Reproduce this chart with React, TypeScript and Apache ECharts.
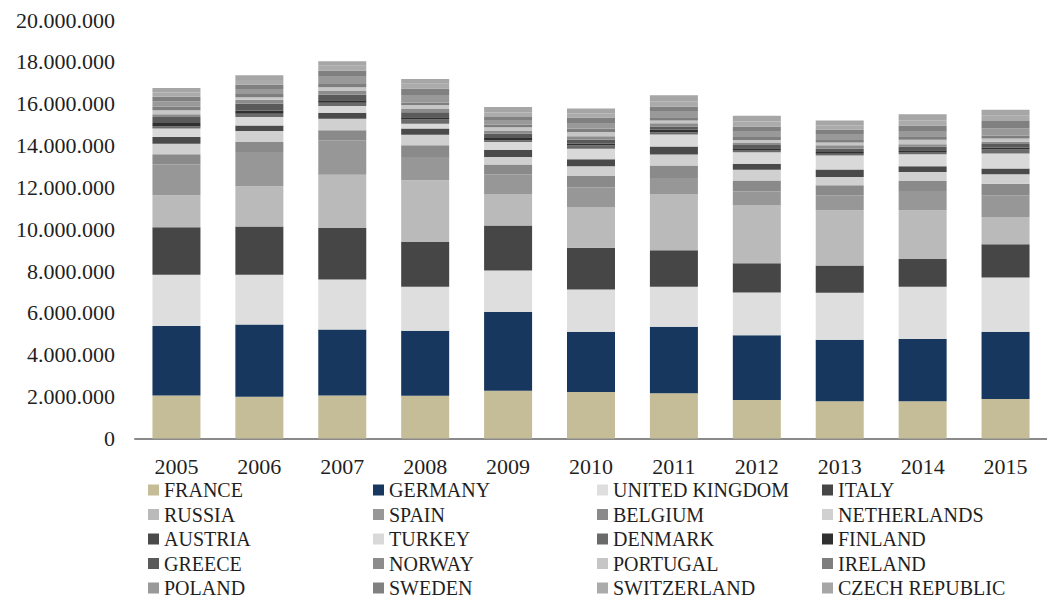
import React, { useEffect, useRef } from "react";
import * as echarts from "echarts";

const years = ["2005", "2006", "2007", "2008", "2009", "2010", "2011", "2012", "2013", "2014", "2015"];

const countries = [
  "FRANCE", "GERMANY", "UNITED KINGDOM", "ITALY",
  "RUSSIA", "SPAIN", "BELGIUM", "NETHERLANDS",
  "AUSTRIA", "TURKEY", "DENMARK", "FINLAND",
  "GREECE", "NORWAY", "PORTUGAL", "IRELAND",
  "POLAND", "SWEDEN", "SWITZERLAND", "CZECH REPUBLIC",
];

const france = [2060000, 2000000, 2060000, 2040000, 2280000, 2220000, 2160000, 1840000, 1780000, 1780000, 1890000];
const germany = [3320000, 3450000, 3150000, 3110000, 3770000, 2880000, 3180000, 3100000, 2940000, 2980000, 3210000];
const unitedKingdom = [2440000, 2370000, 2390000, 2100000, 1980000, 2020000, 1910000, 2040000, 2240000, 2490000, 2590000];
const italy = [2280000, 2310000, 2460000, 2140000, 2150000, 1990000, 1750000, 1400000, 1310000, 1330000, 1590000];
const russia = [1520000, 1920000, 2550000, 2950000, 1480000, 1930000, 2660000, 2760000, 2640000, 2330000, 1310000];
const spain = [1480000, 1640000, 1640000, 1110000, 970000, 950000, 790000, 660000, 710000, 920000, 1030000];
const belgium = [480000, 480000, 480000, 560000, 470000, 550000, 600000, 530000, 480000, 480000, 560000];
const netherlands = [510000, 520000, 550000, 510000, 350000, 470000, 520000, 510000, 400000, 430000, 450000];
const austria = [320000, 270000, 290000, 290000, 350000, 330000, 390000, 290000, 350000, 270000, 270000];
const turkey = [400000, 400000, 320000, 230000, 370000, 510000, 570000, 550000, 680000, 570000, 720000];
const denmark = [110000, 160000, 160000, 200000, 80000, 160000, 110000, 110000, 80000, 110000, 190000];
const finland = [160000, 160000, 110000, 110000, 110000, 80000, 110000, 80000, 80000, 80000, 100000];
const greece = [290000, 320000, 270000, 240000, 210000, 190000, 160000, 160000, 160000, 190000, 160000];
const norway = [130000, 190000, 200000, 160000, 120000, 160000, 160000, 120000, 160000, 100000, 110000];
const portugal = [190000, 120000, 160000, 190000, 190000, 210000, 130000, 110000, 130000, 220000, 160000];
const ireland = [160000, 150000, 150000, 120000, 120000, 170000, 150000, 150000, 130000, 160000, 140000];
const poland = [260000, 240000, 350000, 350000, 180000, 260000, 260000, 250000, 250000, 260000, 340000];
const sweden = [220000, 220000, 300000, 320000, 180000, 260000, 260000, 250000, 250000, 260000, 350000];
const switzerland = [200000, 210000, 220000, 220000, 220000, 200000, 250000, 240000, 200000, 250000, 260000];
const czechRepublic = [220000, 230000, 220000, 230000, 260000, 230000, 280000, 270000, 230000, 280000, 280000];

const seriesValues = [
  france, germany, unitedKingdom, italy,
  russia, spain, belgium, netherlands,
  austria, turkey, denmark, finland,
  greece, norway, portugal, ireland,
  poland, sweden, switzerland, czechRepublic,
];

const colors = [
  "#c4bd97", "#17375e", "#dedede", "#464646",
  "#bababa", "#979797", "#8a8a8a", "#d0d0d0",
  "#4a4a4a", "#d9d9d9", "#6a6a6a", "#303030",
  "#5a5a5a", "#8c8c8c", "#c6c6c6", "#7e7e7e",
  "#999999", "#808080", "#ababab", "#a6a6a6",
];

const FONT = "'Liberation Serif', 'Times New Roman', serif";
const TEXT = "#1f1f1f";

const formatThousands = (v: number) =>
  v === 0 ? "0" : String(Math.round(v)).replace(/\B(?=(\d{3})+(?!\d))/g, ".");

export default function App() {
  const ref = useRef<HTMLDivElement>(null);

  useEffect(() => {
    document.body.style.margin = "0";
    if (!ref.current) return;
    const chart = echarts.init(ref.current, undefined, { renderer: "svg" });

    // four legend columns, five entries each, filled row by row
    const columnLefts = [148, 373, 597, 822];
    const legends = columnLefts.map((left, col) => ({
      orient: "vertical" as const,
      left,
      top: 480,
      height: 200,
      padding: 0,
      icon: "rect",
      itemWidth: 11,
      itemHeight: 11,
      itemGap: 4.5,
      selectedMode: false,
      textStyle: { fontFamily: FONT, fontSize: 20, color: TEXT, lineHeight: 20 },
      data: countries.filter((_, i) => i % 4 === col),
    }));

    chart.setOption({
      animation: false,
      color: colors,
      grid: { left: 135, top: 20, width: 926, height: 418.5 },
      legend: legends,
      xAxis: {
        type: "category",
        data: years,
        axisLine: { lineStyle: { color: "#8a8a8a", width: 2 } },
        axisTick: { show: false },
        axisLabel: { fontFamily: FONT, fontSize: 22, color: TEXT, margin: 17 },
      },
      yAxis: {
        type: "value",
        min: 0,
        max: 20000000,
        interval: 2000000,
        splitLine: { show: false },
        axisLine: { show: false },
        axisTick: { show: false },
        axisLabel: {
          fontFamily: FONT,
          fontSize: 22,
          color: TEXT,
          margin: 20,
          formatter: formatThousands,
        },
      },
      series: countries.map((name, i) => ({
        name,
        type: "bar",
        stack: "total",
        barWidth: 48,
        data: seriesValues[i],
        itemStyle: { color: colors[i] },
      })),
    });

    return () => chart.dispose();
  }, []);

  return <div ref={ref} style={{ width: 1047, height: 601 }} />;
}
